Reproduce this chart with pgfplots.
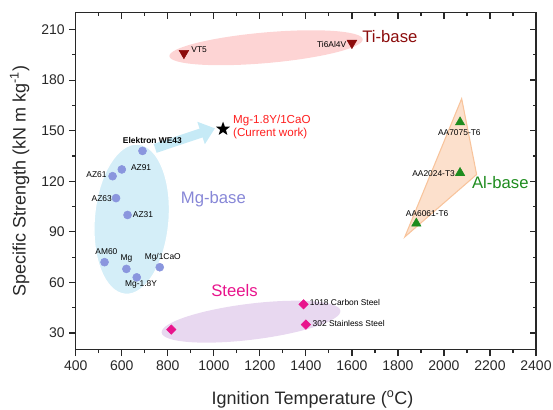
\documentclass[border=0pt]{standalone}
\usepackage{fontspec}
\setmainfont{Liberation Sans}
\usepackage{pgfplots}
\pgfplotsset{compat=1.18}
\usetikzlibrary{shapes.geometric, arrows.meta, calc}

\definecolor{mgpt}{RGB}{138,150,222}
\definecolor{mgtxt}{RGB}{135,135,215}
\definecolor{mgfill}{RGB}{212,238,248}
\definecolor{tipt}{RGB}{140,12,12}
\definecolor{tifill}{RGB}{253,212,212}
\definecolor{alpt}{RGB}{30,140,30}
\definecolor{alfill}{RGB}{252,224,204}
\definecolor{aledge}{RGB}{248,196,156}
\definecolor{stpt}{RGB}{232,20,140}
\definecolor{stfill}{RGB}{232,216,240}
\definecolor{arrowc}{RGB}{198,234,246}
\definecolor{curr}{RGB}{255,30,30}
\definecolor{axc}{RGB}{40,40,40}

\pgfdeclareplotmark{fstar}{\node[star, star points=5, star point ratio=2.4, fill=black, draw=none, inner sep=0pt, minimum size=11pt] {};}

\newcommand{\lbl}{\fontsize{6.3}{7}\selectfont}
\newcommand{\grp}{\fontsize{12.5}{14}\selectfont}

\pgfplotsset{
  frame/.style={
    scale only axis, width=345pt, height=252.75pt,
    xmin=400, xmax=2400, ymin=20, ymax=220,
    xtick={400,600,...,2400}, ytick={30,60,...,210},
    minor x tick num=1, minor y tick num=1,
    major tick length=4.7pt, minor tick length=2.5pt,
    axis line style={line width=0.9pt, axc},
    every tick/.style={line width=0.9pt, axc},
    ticklabel style={font=\fontsize{10.5}{12}\selectfont, text=axc},
    /pgf/number format/assume math mode=true,
    /pgf/number format/set thousands separator={},
  }
}

\begin{document}
\begin{tikzpicture}
\begin{axis}[
  frame,
  tick align=outside, xtick pos=bottom, ytick pos=left,
  xlabel={Ignition Temperature (\textsuperscript{o}C)},
  ylabel={Specific Strength (kN m kg\textsuperscript{-1})},
  label style={font=\fontsize{13.5}{15}\selectfont, text=axc},
  xlabel style={at={(axis description cs:0.5,0)}, anchor=center, yshift=-37.5pt, xshift=5pt},
  ylabel style={at={(axis description cs:-0.1217,0.5)}, anchor=center},
]
% group shapes
\node[ellipse, fill=mgfill, draw=white, line width=1pt, minimum width=56pt, minimum height=113pt, inner sep=0pt, rotate=-5] at (axis cs:643,97.5) {};
\node[ellipse, fill=tifill, draw=none, minimum width=145.5pt, minimum height=23pt, inner sep=0pt, rotate=5] at (axis cs:1227,199.2) {};
\node[ellipse, fill=stfill, draw=none, minimum width=135pt, minimum height=27pt, inner sep=0pt, rotate=7] at (axis cs:1161.5,36.7) {};
\fill[alfill, draw=aledge, line width=0.8pt] (axis cs:2077,169) -- (axis cs:2142,124) -- (axis cs:1830,87) -- cycle;
\draw[arrowc, line width=7pt, -{Triangle[length=11pt, width=17pt]}] (axis cs:745,139.5) -- (axis cs:1005,151.4);

% Mg-base
\addplot[only marks, mark=*, mark size=3pt, color=mgpt] coordinates
  {(690,138)(600,127)(560,123)(575,110)(625,100)(525,72)(620,68)(665,63)(765,69)};
% Ti-base
\addplot[only marks, mark=triangle*, mark size=4.2pt, color=tipt, mark options={rotate=180}] coordinates
  {(870,196)(1600,202)};
% Al-base
\addplot[only marks, mark=triangle*, mark size=4pt, color=alpt] coordinates
  {(2070,155)(2070,125)(1880,95)};
% Steels
\addplot[only marks, mark=square*, mark size=2.5pt, color=stpt, mark options={rotate=45}] coordinates
  {(815,32)(1390,47)(1400,35)};
% current work
\addplot[only marks, mark=fstar] coordinates {(1040,151)};

% point labels
\node[font=\lbl\bfseries] at (axis cs:733,144) {Elektron WE43};
\node[font=\lbl] at (axis cs:684,128.3) {AZ91};
\node[font=\lbl] at (axis cs:490,124.1) {AZ61};
\node[font=\lbl] at (axis cs:513,110) {AZ63};
\node[font=\lbl] at (axis cs:692,100) {AZ31};
\node[font=\lbl] at (axis cs:533,78.3) {AM60};
\node[font=\lbl] at (axis cs:620,74.4) {Mg};
\node[font=\lbl] at (axis cs:778,75) {Mg/1CaO};
\node[font=\lbl] at (axis cs:684,58.6) {Mg-1.8Y};
\node[font=\lbl] at (axis cs:936,198.1) {VT5};
\node[font=\lbl] at (axis cs:1512,201.3) {Ti6Al4V};
\node[font=\lbl] at (axis cs:2067,148.8) {AA7075-T6};
\node[font=\lbl] at (axis cs:1955,124.3) {AA2024-T3};
\node[font=\lbl] at (axis cs:1927,101) {AA6061-T6};
\node[font=\lbl] at (axis cs:1570,48.1) {1018 Carbon Steel};
\node[font=\lbl] at (axis cs:1586,35.9) {302 Stainless Steel};

% group labels
\node[font=\grp, text=tipt] at (axis cs:1765,205.6) {Ti-base};
\node[font=\grp, text=mgtxt] at (axis cs:998,109.5) {Mg-base};
\node[font=\grp, text=stpt] at (axis cs:1090,55.2) {Steels};
\node[font=\grp, text=alpt] at (axis cs:2245,119) {Al-base};
\node[font=\fontsize{8.7}{10}\selectfont, text=curr, align=left, anchor=west, inner sep=0pt] at (axis cs:1083,152.1) {Mg-1.8Y/1CaO\\(Current work)};
\end{axis}

\begin{axis}[
  frame,
  tick align=inside, xtick pos=top, ytick pos=right,
  xticklabels={}, yticklabels={},
]
\end{axis}

\pgfresetboundingbox
\path ($(current axis.south west)+(-56.8pt,-45pt)$) rectangle ($(current axis.north east)+(12.75pt,9.5pt)$);
\end{tikzpicture}
\end{document}
